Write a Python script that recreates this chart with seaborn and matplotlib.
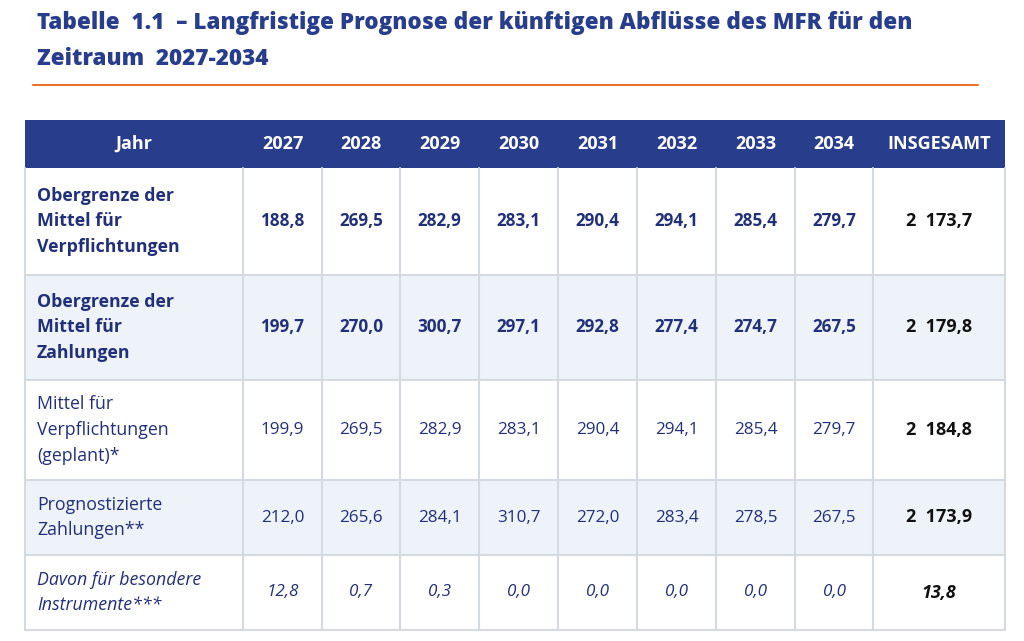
import matplotlib
matplotlib.use("Agg")
import matplotlib.pyplot as plt
import seaborn as sns
from matplotlib.patches import Rectangle

sns.set_theme(style="white")
plt.rcParams['font.family'] = ['Open Sans', 'DejaVu Sans']

title = "Tabelle  1.1  – Langfristige Prognose der künftigen Abflüsse des MFR für den\nZeitraum  2027-2034"
header = ["Jahr", "2027", "2028", "2029", "2030", "2031", "2032", "2033", "2034", "INSGESAMT"]
row_labels = ["Obergrenze der\nMittel für\nVerpflichtungen",
              "Obergrenze der\nMittel für\nZahlungen",
              "Mittel für\nVerpflichtungen\n(geplant)*",
              "Prognostizierte\nZahlungen**",
              "Davon für besondere\nInstrumente***"]
values = [
    ["188,8", "269,5", "282,9", "283,1", "290,4", "294,1", "285,4", "279,7"],
    ["199,7", "270,0", "300,7", "297,1", "292,8", "277,4", "274,7", "267,5"],
    ["199,9", "269,5", "282,9", "283,1", "290,4", "294,1", "285,4", "279,7"],
    ["212,0", "265,6", "284,1", "310,7", "272,0", "283,4", "278,5", "267,5"],
    ["12,8", "0,7", "0,3", "0,0", "0,0", "0,0", "0,0", "0,0"],
]
totals = ["2  173,7", "2  179,8", "2  184,8", "2  173,9", "13,8"]

col_edges = [25, 243, 322, 400, 479, 558, 637, 716, 795, 873, 1005]
row_edges = [120, 168, 275, 380, 480, 555, 630]
navy = "#283e8c"
txt = "#22307a"
shade = "#eef2f9"
grid = "#d5d9e0"
styles = [("bold", "normal"), ("bold", "normal"), ("normal", "normal"),
          ("normal", "normal"), ("normal", "italic")]
row_bg = ["white", shade, "white", shade, "white"]

fig = plt.figure(figsize=(10.24, 6.41), dpi=100)
ax = fig.add_axes([0, 0, 1, 1])
ax.set_xlim(0, 1024)
ax.set_ylim(641, 0)
ax.axis("off")

ax.text(37, 41, title, fontsize=16.2, fontweight="heavy", color=navy,
        va="center", ha="left", linespacing=1.7)
ax.plot([33, 978], [85, 85], color="#e8742a", lw=1.5)

ax.add_patch(Rectangle((col_edges[0], row_edges[0]), col_edges[-1] - col_edges[0],
                       row_edges[1] - row_edges[0], color=navy, lw=0))
hy = (row_edges[0] + row_edges[1]) / 2
for j, h in enumerate(header):
    cx = (col_edges[j] + col_edges[j + 1]) / 2
    ax.text(cx, hy, h, color="white", fontweight="bold", fontsize=13,
            ha="center", va="center")

for i, lab in enumerate(row_labels):
    y0, y1 = row_edges[i + 1], row_edges[i + 2]
    cy = (y0 + y1) / 2
    ax.add_patch(Rectangle((col_edges[0], y0), col_edges[-1] - col_edges[0],
                           y1 - y0, color=row_bg[i], lw=0))
    w, st = styles[i]
    ax.text(col_edges[0] + 12, cy, lab, color=txt, fontweight=w, fontstyle=st,
            fontsize=12.8, ha="left", va="center", linespacing=1.55)
    for j, v in enumerate(values[i]):
        cx = (col_edges[j + 1] + col_edges[j + 2]) / 2
        ax.text(cx, cy, v, color=txt, fontweight=w, fontstyle=st, fontsize=12.3,
                ha="center", va="center")
    cx = (col_edges[-2] + col_edges[-1]) / 2
    ax.text(cx, cy, totals[i], color="#111111", fontweight="bold", fontstyle=st,
            fontsize=13, ha="center", va="center")

for x in col_edges[1:-1]:
    ax.plot([x, x], [row_edges[1], row_edges[-1]], color=grid, lw=1.5)
for y in row_edges[2:]:
    ax.plot([col_edges[0], col_edges[-1]], [y, y], color=grid, lw=1.5)
for x in (col_edges[0], col_edges[-1]):
    ax.plot([x, x], [row_edges[1], row_edges[-1]], color=grid, lw=1.5)

fig.savefig("out.png", dpi=100)
